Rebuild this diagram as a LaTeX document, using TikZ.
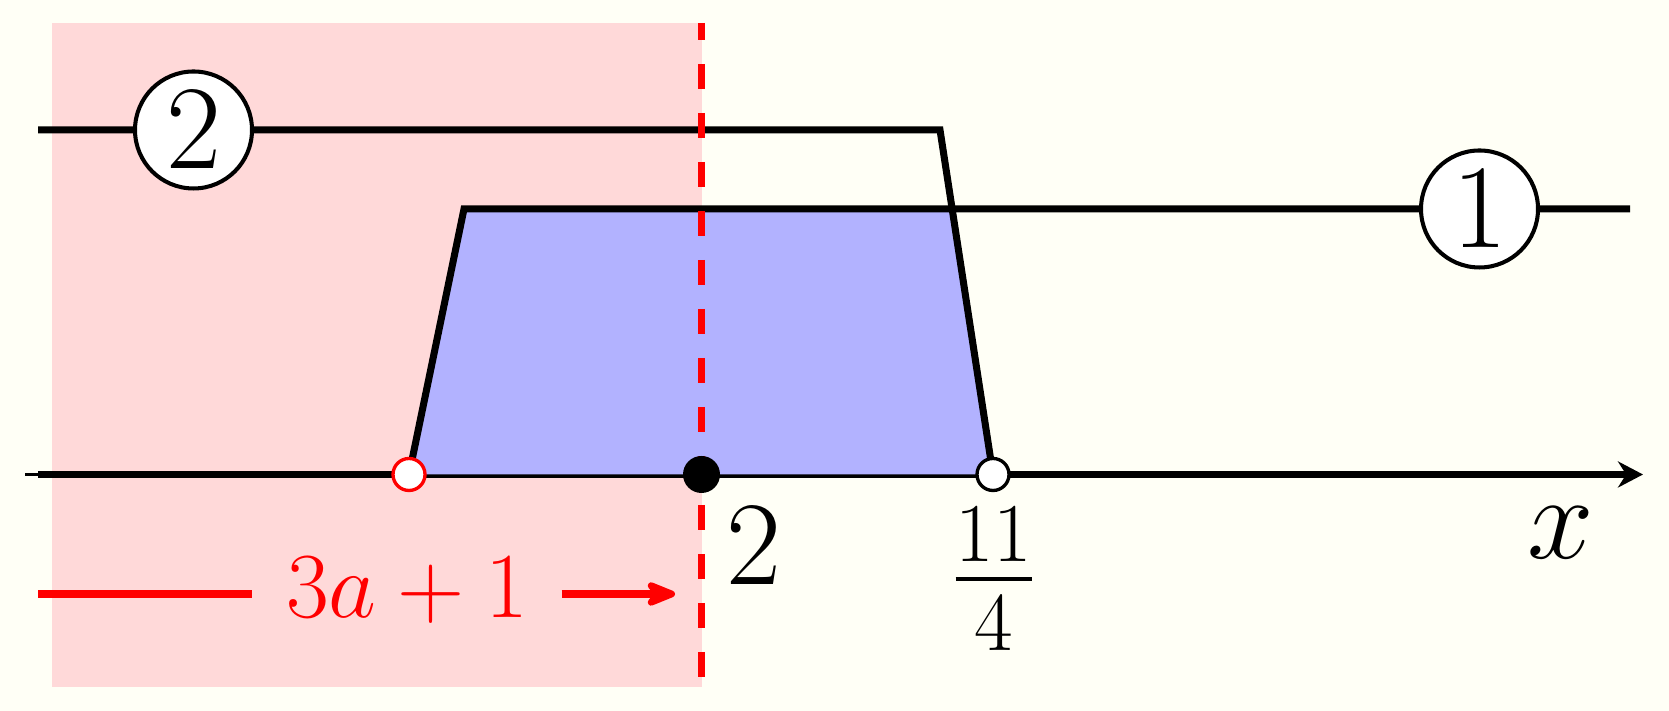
\RequirePackage{fix-cm}
\documentclass[tikz,border=0pt]{standalone}
\usepackage{amsmath}
\usetikzlibrary{arrows.meta,positioning,calc}
\definecolor{paper}{RGB}{255,255,246}

\begin{document}
\begin{tikzpicture}[
  thickline/.style={line width=2pt, line join=miter},
  numball/.style={circle, draw, fill=white, line width=1.15pt, minimum size=1.17cm,
    inner sep=0pt, font=\fontsize{34}{40}\selectfont},
  opendot/.style={circle, draw, fill=white, line width=0.95pt, minimum size=0.32cm, inner sep=0pt},
  fulldot/.style={circle, fill=black, minimum size=0.37cm, inner sep=0pt},
  biglabel/.style={anchor=base, inner sep=0pt, font=\fontsize{34}{40}\selectfont},
]
\useasboundingbox (0,0) rectangle (16.69,7.11);
\fill[paper] (0,0) rectangle (16.69,7.11);
\fill[red!15] (0.52,0.24) rectangle (7.02,6.88);

% points on the axis
\coordinate (ax0) at (0.25,2.365);
\coordinate (ax1) at (0.38,2.365);
\coordinate (axe) at (16.43,2.365);
\coordinate (pa) at (4.09,2.365);
\coordinate (pb) at (7.015,2.365);
\coordinate (pc) at (9.93,2.365);
% corners of the two lines
\coordinate (c1) at (4.64,5.02);
\coordinate (e1) at (16.30,5.02);
\coordinate (s2) at (0.38,5.81);
\coordinate (c2) at (9.40,5.81);

\draw[line width=0.85pt] (ax0) -- (ax1);
\draw[thickline, -{Stealth[length=0.25cm, width=0.26cm]}] (ax1) -- (axe);
\fill[blue!30] (pa) -- (c1) -- (intersection of c1--e1 and c2--pc) -- (pc) -- cycle;

\draw[thickline] (pa) -- (c1) -- (e1);
\draw[thickline] (s2) -- (c2) -- (pc);
\node[numball] (one) at (14.795,5.02) {$1$};
\node[numball] (two) at (1.935,5.81) {$2$};

\draw[red, line width=2pt, dash pattern=on 0.25cm off 0.24cm, dash phase=0.08cm]
  (7.015,6.88) -- (7.015,0.24);

\node[opendot, draw=red] (ma) at (pa) {};
\node[fulldot] (mb) at (pb) {};
\node[opendot] (mc) at (pc) {};

\node[biglabel] (lb) at (7.54,1.26) {$2$};
\node[biglabel] (lc) at (9.94,1.02) {$\frac{11}{4}$};
\node[biglabel] (lx) at (15.61,1.52) {$x$};

% the red arrow with its label
\coordinate (rl) at (0.38,1.17);
\coordinate (ra) at (6.75,1.17);
\node[anchor=base, inner sep=0.33cm, text=red, font=\fontsize{26.5}{32}\selectfont] (lab) at (4.07,0.93) {$3a+1$};
\draw[red, line width=2pt] (rl) -- (rl -| lab.west);
\draw[red, line width=2pt, -{Stealth[length=0.4cm, width=0.32cm, round]}] (ra -| lab.east) -- (ra);
\end{tikzpicture}
\end{document}
